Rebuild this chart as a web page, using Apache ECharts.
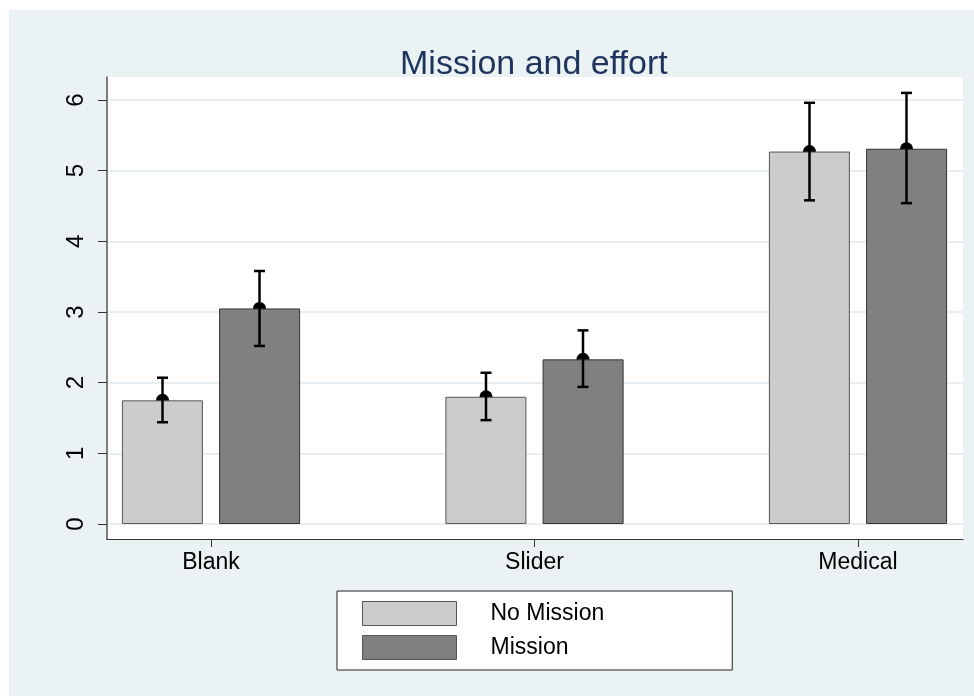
<!DOCTYPE html>
<html>
<head>
<meta charset="utf-8">
<script src="https://cdn.jsdelivr.net/npm/echarts@6/dist/echarts.min.js"></script>
<style>
  html, body { margin: 0; padding: 0; background: #fff; }
  #chart { position: absolute; left: 9px; top: 10px; width: 965px; height: 686px; background: #EAF2F3; }
</style>
</head>
<body>
<div id="chart"></div>
<script>
// data
const categories = ['Blank', 'Slider', 'Medical'];
const noMission = [1.75, 1.80, 5.27];
const noMissionLow = [1.44, 1.47, 4.58];
const noMissionHigh = [2.07, 2.14, 5.96];
const mission = [3.05, 2.33, 5.31];
const missionLow = [2.52, 1.94, 4.54];
const missionHigh = [3.58, 2.74, 6.10];
const yTicks = [0, 1, 2, 3, 4, 5, 6];

const BAR_W = 81;
const OFFSET = 48.5; // half of bar + gap, px

const chart = echarts.init(document.getElementById('chart'));

// error-bar rows: [category index, low, high, mean, side]
const errRows = [];
categories.forEach((c, i) => {
  errRows.push([i, noMissionLow[i], noMissionHigh[i], noMission[i], -1]);
  errRows.push([i, missionLow[i], missionHigh[i], mission[i], 1]);
});

const font = "'Liberation Sans', Arial, sans-serif";

const options = {
  animation: false,
  textStyle: { fontFamily: font },
  title: {
    text: 'Mission and effort',
    left: 386,
    top: 33,
    textStyle: { fontSize: 34, fontWeight: 'normal', color: '#1E345E', fontFamily: font }
  },
  grid: {
    left: 98, top: 67, width: 856, height: 462,
    show: true, backgroundColor: '#fff', borderWidth: 0
  },
  legend: {
    data: ['No Mission', 'Mission'],
    orient: 'vertical',
    left: 328, top: 581,
    padding: [10, 128, 10, 25],
    itemWidth: 94, itemHeight: 24, itemGap: 9,
    icon: 'rect',
    backgroundColor: '#fff',
    borderColor: '#222', borderWidth: 1,
    textStyle: { fontSize: 23, color: '#000', padding: [0, 0, 0, 29], fontFamily: font },
    itemStyle: { borderColor: '#555', borderWidth: 1 }
  },
  xAxis: {
    type: 'value',
    min: -0.3215, max: 2.3246,
    splitLine: { show: false },
    axisLine: { show: true, onZero: false, lineStyle: { color: '#333', width: 1 } },
    axisTick: { show: true, length: 8, customValues: [0, 1, 2], lineStyle: { color: '#333' } },
    axisLabel: {
      customValues: [0, 1, 2],
      formatter: v => categories[Math.round(v)],
      fontSize: 23, color: '#000', margin: 12, fontFamily: font
    }
  },
  yAxis: {
    type: 'value',
    min: -0.212, max: 6.325,
    splitLine: { show: false },
    axisLine: { show: true, onZero: false, lineStyle: { color: '#555', width: 1.5 } },
    axisTick: { show: true, length: 9, customValues: yTicks, lineStyle: { color: '#333' } },
    axisLabel: {
      customValues: yTicks,
      rotate: 90,
      fontSize: 24, color: '#000', margin: 19, fontFamily: font
    }
  },
  series: [
    {
      // dots (drawn under the bars) + grid lines
      type: 'custom',
      z: 1,
      silent: true,
      data: errRows,
      renderItem: (params, api) => {
        const p = api.coord([api.value(0), api.value(3)]);
        return {
          type: 'circle',
          shape: { cx: p[0] + api.value(4) * OFFSET, cy: p[1], r: 6.5 },
          style: { fill: '#000' }
        };
      },
      markLine: {
        silent: true,
        z: 0,
        symbol: 'none',
        label: { show: false },
        lineStyle: { color: '#E6EFF1', width: 2, type: 'solid' },
        data: yTicks.map(v => ({ yAxis: v }))
      }
    },
    {
      name: 'No Mission',
      type: 'bar',
      z: 2,
      barWidth: BAR_W,
      barGap: '20%',
      data: noMission.map((v, i) => [i, v]),
      itemStyle: { color: '#CCCCCC', borderColor: '#555', borderWidth: 1 }
    },
    {
      name: 'Mission',
      type: 'bar',
      z: 2,
      barWidth: BAR_W,
      barGap: '20%',
      data: mission.map((v, i) => [i, v]),
      itemStyle: { color: '#808080', borderColor: '#333', borderWidth: 1 }
    },
    {
      // error bars with caps
      type: 'custom',
      z: 3,
      silent: true,
      data: errRows,
      renderItem: (params, api) => {
        const lo = api.coord([api.value(0), api.value(1)]);
        const hi = api.coord([api.value(0), api.value(2)]);
        const x = lo[0] + api.value(4) * OFFSET;
        const style = { stroke: '#000', lineWidth: 2.5 };
        return {
          type: 'group',
          children: [
            { type: 'line', shape: { x1: x, y1: lo[1], x2: x, y2: hi[1] }, style },
            { type: 'line', shape: { x1: x - 5.5, y1: lo[1], x2: x + 5.5, y2: lo[1] }, style },
            { type: 'line', shape: { x1: x - 5.5, y1: hi[1], x2: x + 5.5, y2: hi[1] }, style }
          ]
        };
      }
    }
  ]
};
chart.setOption(options);
</script>
</body>
</html>
